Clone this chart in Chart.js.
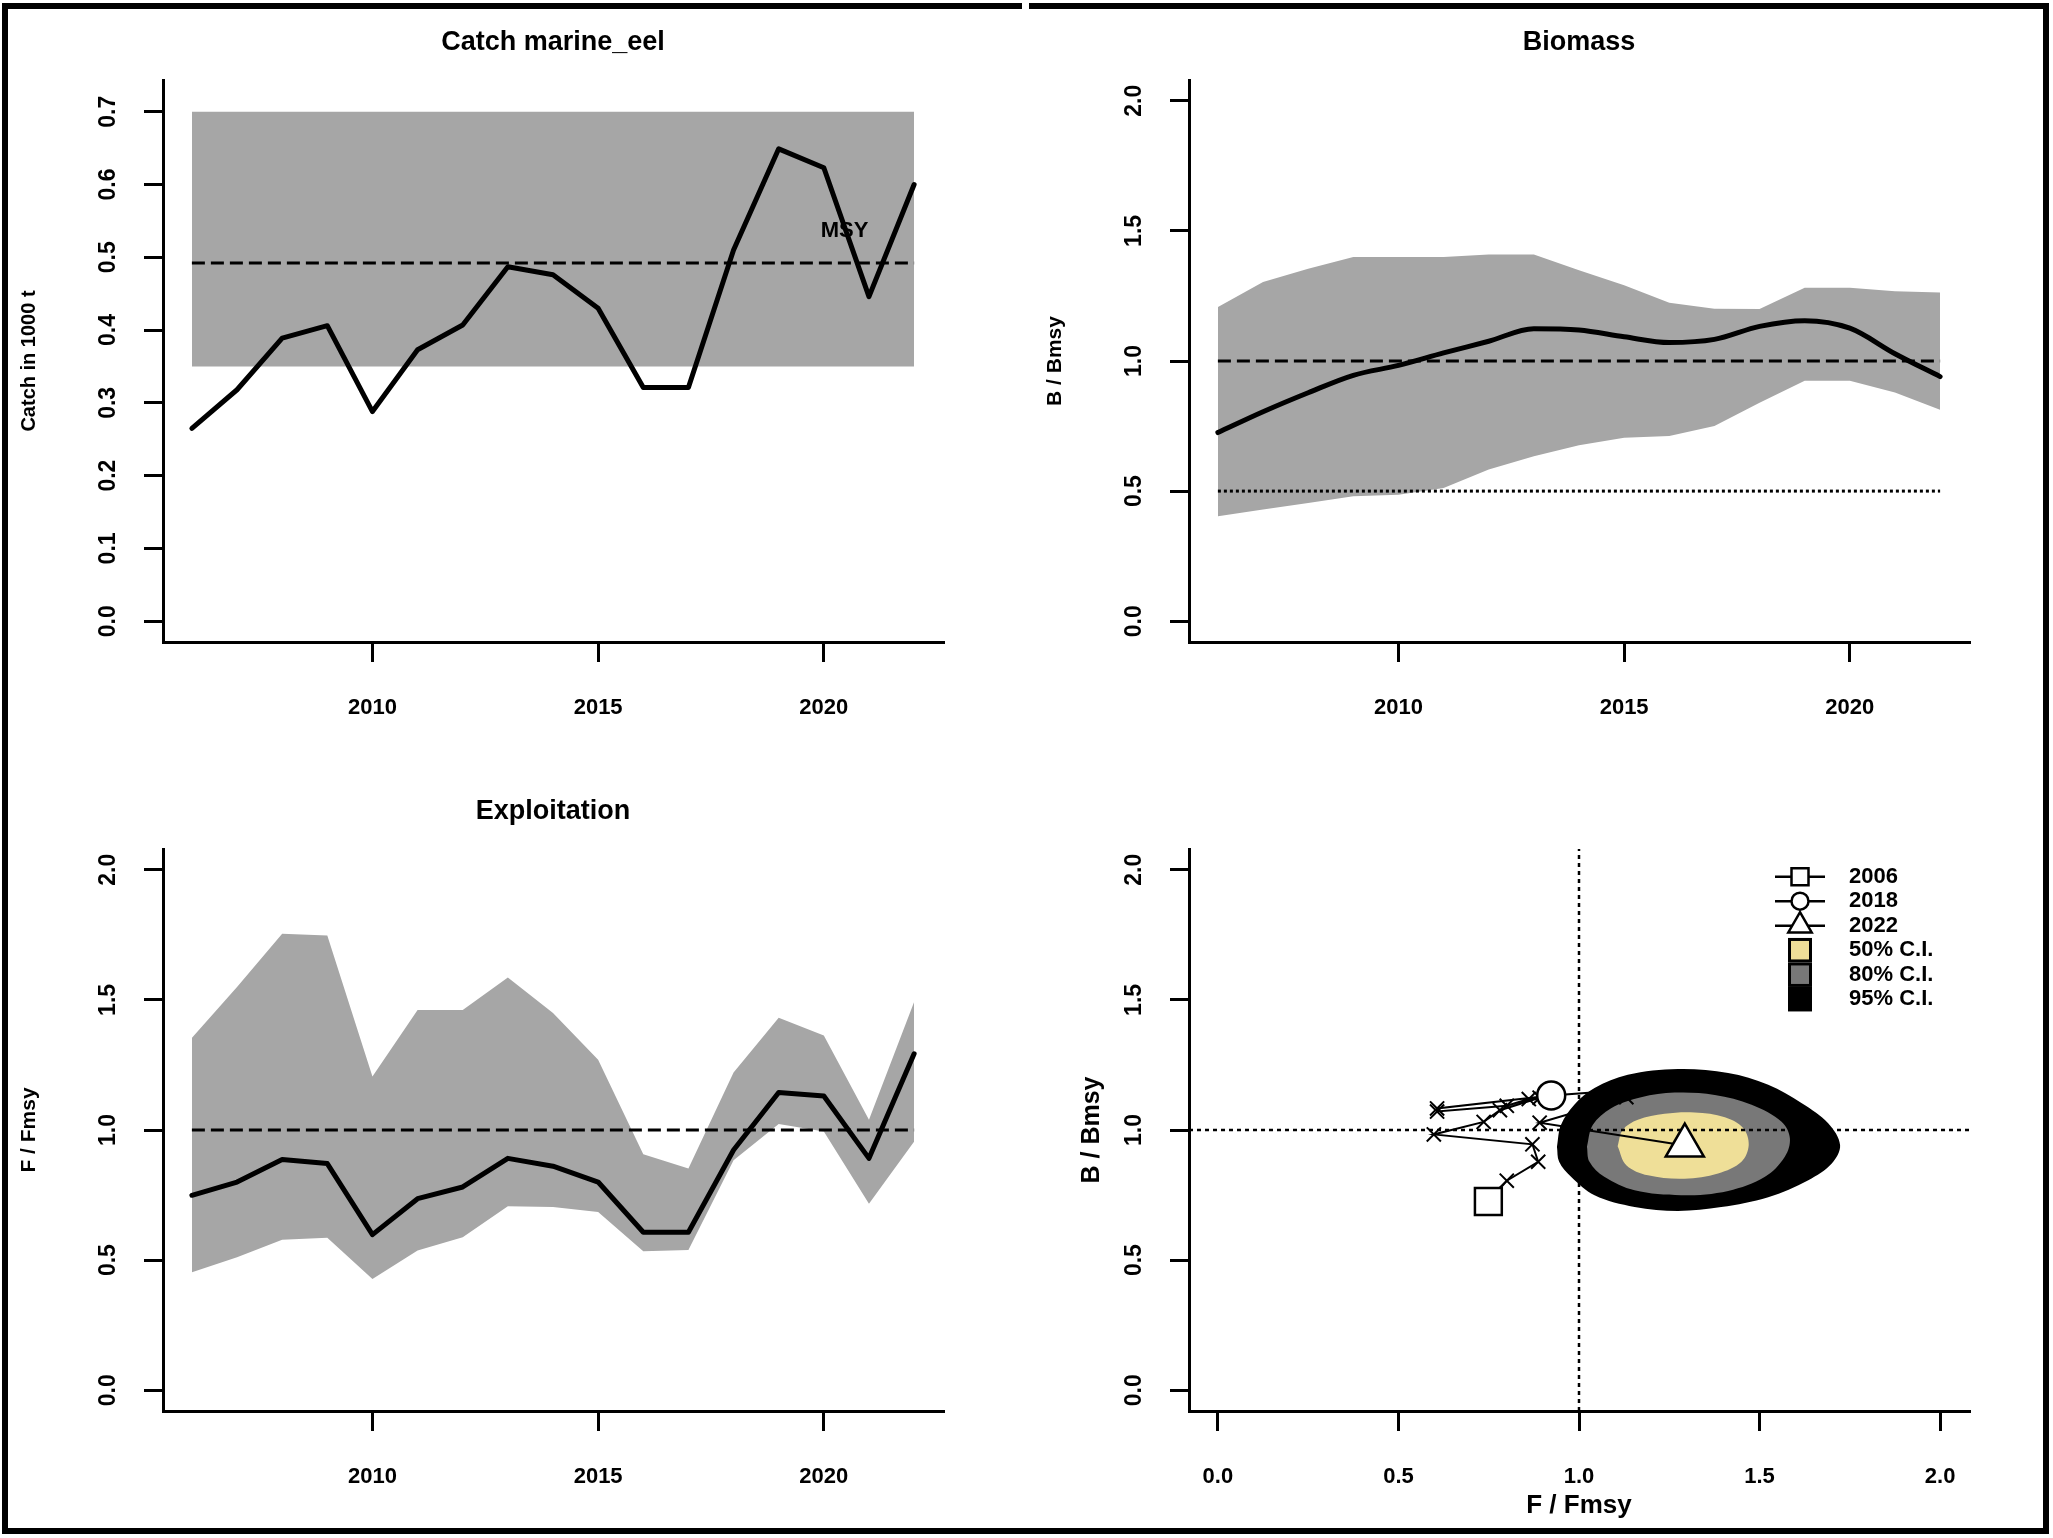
<!DOCTYPE html>
<html>
<head>
<meta charset="utf-8">
<script src="https://cdn.jsdelivr.net/npm/chart.js@4.4.1/dist/chart.umd.min.js"></script>
<style>
html,body{margin:0;padding:0;background:#fff;}
#page{position:relative;width:2053px;height:1538px;overflow:hidden;background:#fff;}
canvas{position:absolute;}
#frame{position:absolute;left:2px;top:3px;width:2047px;height:1531px;border:6px solid #000;box-sizing:border-box;pointer-events:none;}
#gap{position:absolute;left:1022px;top:1px;width:7px;height:11px;background:#fff;}
</style>
</head>
<body>
<div id="page">
  <canvas id="cCatch" width="1026" height="769" style="left:0px;top:0px"></canvas>
  <canvas id="cBio" width="1026" height="769" style="left:1026px;top:0px"></canvas>
  <canvas id="cExp" width="1026" height="769" style="left:0px;top:769px"></canvas>
  <canvas id="cKobe" width="1026" height="769" style="left:1026px;top:769px"></canvas>
  <div id="frame"></div>
  <div id="gap"></div>
</div>
<script>
// ---------------- DATA ----------------
const years = [2006,2007,2008,2009,2010,2011,2012,2013,2014,2015,2016,2017,2018,2019,2020,2021,2022];

const catchValues = [0.265,0.318,0.389,0.406,0.288,0.373,0.407,0.487,0.476,0.430,0.321,0.321,0.510,0.649,0.623,0.446,0.600];
const catchMSY = 0.492;
const catchMSYLow = 0.35;
const catchMSYHigh = 0.70;
const msyText = 'MSY';
const msyLabelPos = [2020.46, 0.536];

const bRatio = [0.725,0.805,0.878,0.945,0.983,1.031,1.076,1.124,1.119,1.093,1.071,1.083,1.133,1.155,1.126,1.028,0.940];
const bUpper = [1.207,1.304,1.355,1.400,1.400,1.400,1.409,1.409,1.349,1.291,1.224,1.201,1.200,1.282,1.282,1.268,1.263];
const bLower = [0.403,0.429,0.454,0.480,0.486,0.512,0.583,0.634,0.676,0.705,0.712,0.750,0.840,0.924,0.924,0.879,0.812];
const bRef = 1.0;
const bLimit = 0.5;

const fRatio = [0.749,0.800,0.887,0.871,0.598,0.736,0.781,0.891,0.861,0.800,0.607,0.607,0.923,1.144,1.131,0.891,1.293];
const fUpper = [1.354,1.550,1.754,1.748,1.206,1.461,1.461,1.586,1.450,1.270,0.907,0.852,1.221,1.431,1.363,1.039,1.492];
const fLower = [0.453,0.511,0.578,0.586,0.427,0.537,0.588,0.707,0.704,0.685,0.534,0.539,0.884,1.023,0.994,0.717,0.955];
const fRef = 1.0;

// Kobe confidence regions (F/Fmsy, B/Bmsy) outlines
const ci95F = [0.939,0.950,0.987,1.043,1.135,1.274,1.413,1.524,1.617,1.690,1.723,1.700,1.635,1.524,1.394,1.274,1.154,1.043,0.978,0.945,0.939];
const ci95B = [0.936,1.019,1.097,1.161,1.212,1.234,1.219,1.174,1.103,1.026,0.942,0.871,0.807,0.742,0.704,0.689,0.704,0.749,0.820,0.878,0.936];
const ci80F = [1.022,1.038,1.089,1.172,1.265,1.376,1.478,1.561,1.584,1.570,1.515,1.413,1.283,1.154,1.070,1.029,1.022];
const ci80B = [0.936,1.019,1.084,1.126,1.144,1.135,1.097,1.032,0.968,0.897,0.820,0.766,0.749,0.768,0.820,0.878,0.936];
const ci50F = [1.107,1.121,1.163,1.237,1.320,1.404,1.455,1.470,1.450,1.385,1.292,1.191,1.131,1.107];
const ci50B = [0.938,1.000,1.039,1.062,1.067,1.049,1.007,0.942,0.878,0.833,0.813,0.826,0.865,0.938];

const kobeMarkYears = [2006, 2018, 2022];
const ciLabels = ['50% C.I.', '80% C.I.', '95% C.I.'];

// tick labels / axis limits
const yearTicks = [2010, 2015, 2020];
const catchTicks = [0.0,0.1,0.2,0.3,0.4,0.5,0.6,0.7];
const ratioTicks = [0.0,0.5,1.0,1.5,2.0];
const kobeTicks = [0.0,0.5,1.0,1.5,2.0];
const yearLim = [2005.36, 2022.64];
const catchLim = [-0.0286, 0.7436];
const ratioLim = [-0.08, 2.08];

const titles = ['Catch marine_eel', 'Biomass', 'Exploitation'];
const axisTitles = {catchY:'Catch in 1000 t', bY:'B / Bmsy', fY:'F / Fmsy', kobeX:'F / Fmsy', kobeY:'B / Bmsy'};

// ---------------- STYLE ----------------
const FONT = "'Liberation Sans', Arial, Helvetica, sans-serif";
const BAND = '#A6A6A6';
const COL50 = '#EFDF98';
const COL80 = '#787878';
const COL95 = '#000000';
const AREA = {left:163, top:80, right:943, bottom:642, w:1026, h:769};
const MAINW = 5;

Chart.defaults.font.family = FONT;
Chart.defaults.color = '#000';

const fmt1 = v => Number(v).toFixed(1);
const fmtYear = v => String(v);

function xScale(lim, tickVals, fmt, title) {
  return {
    type:'linear', position:'bottom', min:lim[0], max:lim[1],
    afterBuildTicks: s => { s.ticks = tickVals.map(v => ({value:v})); },
    afterFit: s => { s.height = AREA.h - AREA.bottom; },
    grid: {drawOnChartArea:false, drawTicks:true, tickLength:20, color:'#000', lineWidth:3},
    border: {display:true, color:'#000', width:3},
    ticks: {autoSkip:false, maxRotation:0, minRotation:0, padding:33, color:'#000',
            font:{family:FONT, size:22, weight:'bold'}, callback: v => fmt(v)},
    title: title ? {display:true, text:title, color:'#000',
            font:{family:FONT, size:26, weight:'bold'}, padding:{top:0, bottom:17}} : {display:false}
  };
}
function yScale(lim, tickVals, fmt, title, size, centerX) {
  const lh = size * 1.2;
  return {
    type:'linear', position:'left', min:lim[0], max:lim[1],
    afterBuildTicks: s => { s.ticks = tickVals.map(v => ({value:v})); },
    afterFit: s => { s.width = AREA.left; },
    grid: {drawOnChartArea:false, drawTicks:true, tickLength:19, color:'#000', lineWidth:3},
    border: {display:true, color:'#000', width:3},
    ticks: {autoSkip:false, minRotation:90, maxRotation:90, crossAlign:'center', padding:19, color:'#000',
            font:{family:FONT, size:23, weight:'bold'}, callback: v => fmt(v)},
    title: {display:true, text:title, color:'#000', font:{family:FONT, size:size, weight:'bold'},
            padding:{top:centerX - lh/2, bottom:0}}
  };
}
function titleOpt(text) {
  const size = 27, lh = size * 1.2, top = 43 - lh / 2;
  return {display:true, fullSize:false, text:text, color:'#000', font:{family:FONT, size:size, weight:'bold'},
          padding:{top:top, bottom:AREA.top - lh - top}};
}
function baseOptions(title, scales, extraPlugins) {
  return {
    responsive:false, animation:false, devicePixelRatio:1, events:[],
    layout:{padding:{top: title ? 0 : AREA.top, right: AREA.w - AREA.right, bottom:0, left:0}},
    plugins: Object.assign({
      legend:{display:false}, tooltip:{enabled:false},
      title: title ? titleOpt(title) : {display:false}
    }, extraPlugins || {}),
    scales: scales
  };
}
function pts(xs, ys) { return xs.map((x, i) => ({x:x, y:ys[i]})); }
function lineDs(data, opts) {
  return Object.assign({type:'scatter', data:data, showLine:true, pointRadius:0, borderColor:'#000',
    borderWidth:MAINW, borderJoinStyle:'round', borderCapStyle:'round', fill:false, tension:0}, opts);
}
function refDs(x0, x1, y0, y1, dash, width, order) {
  return lineDs([{x:x0, y:y0}, {x:x1, y:y1}], {borderDash:dash, borderWidth:width, borderCapStyle:'butt', order:order});
}
const first = years[0], last = years[years.length - 1];

// ---------------- CATCH ----------------
const msyLabelPlugin = {
  id:'msyLabel',
  afterDatasetsDraw(chart) {
    const {ctx, scales} = chart;
    ctx.save();
    ctx.font = 'bold 22px ' + FONT;
    ctx.fillStyle = '#000';
    ctx.textAlign = 'center';
    ctx.textBaseline = 'middle';
    ctx.fillText(msyText, scales.x.getPixelForValue(msyLabelPos[0]), scales.y.getPixelForValue(msyLabelPos[1]));
    ctx.restore();
  }
};
new Chart(document.getElementById('cCatch'), {
  type:'scatter',
  data:{datasets:[
    lineDs(pts(years, catchValues), {order:0}),
    refDs(first, last, catchMSY, catchMSY, [13,6], 3, 1),
    lineDs([{x:first, y:catchMSYHigh}, {x:last, y:catchMSYHigh}], {borderWidth:0, fill:'+1', backgroundColor:BAND, order:3}),
    lineDs([{x:first, y:catchMSYLow}, {x:last, y:catchMSYLow}], {borderWidth:0, order:2})
  ]},
  options: baseOptions(titles[0], {
    x: xScale(yearLim, yearTicks, fmtYear),
    y: yScale(catchLim, catchTicks, fmt1, axisTitles.catchY, 20, 29)
  }),
  plugins:[msyLabelPlugin]
});

// ---------------- BIOMASS ----------------
new Chart(document.getElementById('cBio'), {
  type:'scatter',
  data:{datasets:[
    lineDs(pts(years, bRatio), {order:0, cubicInterpolationMode:'monotone'}),
    refDs(first, last, bRef, bRef, [13,6], 3, 1),
    refDs(first, last, bLimit, bLimit, [3,3], 3, 1),
    lineDs(pts(years, bUpper), {borderWidth:0, fill:'+1', backgroundColor:BAND, order:3}),
    lineDs(pts(years, bLower), {borderWidth:0, order:2})
  ]},
  options: baseOptions(titles[1], {
    x: xScale(yearLim, yearTicks, fmtYear),
    y: yScale(ratioLim, ratioTicks, fmt1, axisTitles.bY, 21, 29)
  })
});

// ---------------- EXPLOITATION ----------------
new Chart(document.getElementById('cExp'), {
  type:'scatter',
  data:{datasets:[
    lineDs(pts(years, fRatio), {order:0}),
    refDs(first, last, fRef, fRef, [13,6], 3, 1),
    lineDs(pts(years, fUpper), {borderWidth:0, fill:'+1', backgroundColor:BAND, order:3}),
    lineDs(pts(years, fLower), {borderWidth:0, order:2})
  ]},
  options: baseOptions(titles[2], {
    x: xScale(yearLim, yearTicks, fmtYear),
    y: yScale(ratioLim, ratioTicks, fmt1, axisTitles.fY, 21, 29)
  })
});

// ---------------- KOBE ----------------
const markIdx = kobeMarkYears.map(y => years.indexOf(y));
const markStyles = [
  {pointStyle:'rect', pointRadius:19},
  {pointStyle:'circle', pointRadius:14},
  {pointStyle:'triangle', pointRadius:22}
];
const kobeLegend = {
  id:'kobeLegend',
  afterDraw(chart) {
    const ctx = chart.ctx;
    const cx = 774, x0 = 749, x1 = 799, tx = 823, y0 = 107.7, dy = 24.5;
    ctx.save();
    ctx.font = 'bold 22px ' + FONT;
    ctx.textAlign = 'left';
    ctx.textBaseline = 'middle';
    kobeMarkYears.forEach((yr, i) => {
      const y = y0 + i * dy;
      ctx.strokeStyle = '#000'; ctx.lineWidth = 2.5;
      ctx.beginPath(); ctx.moveTo(x0, y); ctx.lineTo(x1, y); ctx.stroke();
      ctx.fillStyle = '#fff';
      ctx.beginPath();
      if (i === 0) { ctx.rect(cx - 8.5, y - 8.5, 17, 17); }
      else if (i === 1) { ctx.arc(cx, y, 8.5, 0, Math.PI * 2); }
      else { const r = 13.5; ctx.moveTo(cx, y - r); ctx.lineTo(cx + 0.866 * r, y + r / 2); ctx.lineTo(cx - 0.866 * r, y + r / 2); ctx.closePath(); }
      ctx.fill(); ctx.stroke();
      ctx.fillStyle = '#000';
      ctx.fillText(String(yr), tx, y);
    });
    const cols = [COL50, COL80, COL95];
    ciLabels.forEach((lab, j) => {
      const y = y0 + (j + 3) * dy;
      ctx.fillStyle = '#000';
      ctx.fillRect(cx - 12, y - dy / 2, 24, dy);
      ctx.fillStyle = cols[j];
      ctx.fillRect(cx - 9, y - dy / 2 + 3, 18, dy - 6);
      ctx.fillStyle = '#000';
      ctx.fillText(lab, tx, y);
    });
    ctx.restore();
  }
};
const kobeDatasets = [
  lineDs(pts(ci95F, ci95B), {borderWidth:0, fill:'shape', backgroundColor:COL95, tension:0.35, order:10}),
  lineDs(pts(ci80F, ci80B), {borderWidth:0, fill:'shape', backgroundColor:COL80, tension:0.35, order:9}),
  lineDs(pts(ci50F, ci50B), {borderWidth:0, fill:'shape', backgroundColor:COL50, tension:0.35, order:8}),
  refDs(fRef, fRef, ratioLim[0], ratioLim[1], [4,4], 2.5, 7),
  refDs(ratioLim[0], ratioLim[1], bRef, bRef, [4,4], 2.5, 7),
  lineDs(pts(fRatio, bRatio), {borderWidth:2, borderJoinStyle:'miter', borderCapStyle:'butt', pointStyle:'crossRot',
    pointRadius:10, pointBorderColor:'#000', pointBorderWidth:2, order:6})
];
markIdx.forEach((idx, k) => {
  kobeDatasets.push({
    type:'scatter', data:[{x:fRatio[idx], y:bRatio[idx]}], showLine:false,
    pointStyle:markStyles[k].pointStyle, pointRadius:markStyles[k].pointRadius,
    pointBackgroundColor:'#fff', pointBorderColor:'#000', pointBorderWidth:2.5, order:3 - k
  });
});
new Chart(document.getElementById('cKobe'), {
  type:'scatter',
  data:{datasets:kobeDatasets},
  options: baseOptions(null, {
    x: xScale(ratioLim, kobeTicks, fmt1, axisTitles.kobeX),
    y: yScale(ratioLim, ratioTicks, fmt1, axisTitles.kobeY, 25, 66)
  }),
  plugins:[kobeLegend]
});
</script>
</body>
</html>
